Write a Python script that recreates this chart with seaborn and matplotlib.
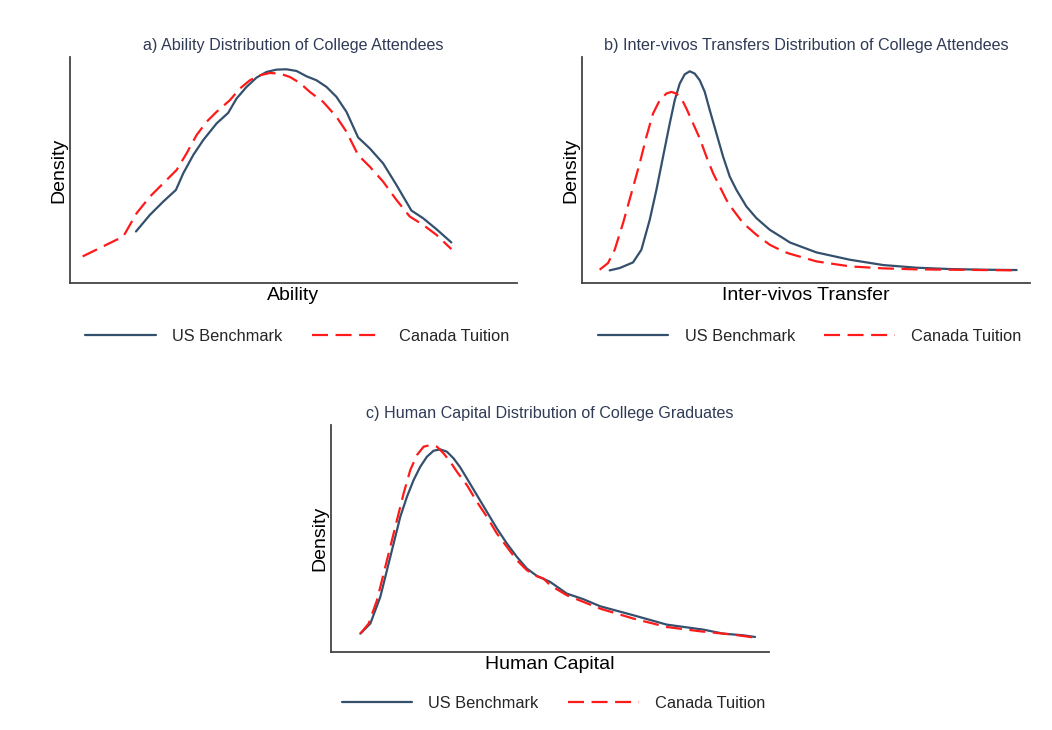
import numpy as np
import pandas as pd
import matplotlib
matplotlib.use("Agg")
import matplotlib.pyplot as plt
import seaborn as sns

# ---------------- data (arbitrary units) ----------------
series_names = ["US Benchmark", "Canada Tuition"]

# a) Ability
ab_us_x = [2.88, 3.30, 3.70, 4.08, 4.30, 4.60, 4.90, 5.30, 5.65, 5.90, 6.20, 6.50, 6.80, 7.10, 7.40,
           7.70, 8.00, 8.30, 8.60, 8.90, 9.20, 9.55, 9.90, 10.30, 10.70, 11.15, 11.50, 11.90, 12.35]
ab_us_y = [0.155, 0.205, 0.245, 0.280, 0.330, 0.385, 0.430, 0.480, 0.512, 0.555, 0.590, 0.618, 0.635,
           0.642, 0.643, 0.638, 0.622, 0.610, 0.590, 0.560, 0.515, 0.438, 0.405, 0.360, 0.295, 0.218,
           0.195, 0.162, 0.122]
ab_ca_x = [1.28, 2.50, 2.90, 3.30, 3.70, 4.10, 4.40, 4.70, 5.00, 5.30, 5.70, 6.00, 6.30, 6.60, 6.90,
           7.20, 7.50, 7.80, 8.10, 8.50, 8.90, 9.20, 9.55, 9.90, 10.30, 10.70, 11.10, 11.50, 11.90, 12.35]
ab_ca_y = [0.080, 0.140, 0.210, 0.260, 0.300, 0.340, 0.390, 0.445, 0.485, 0.515, 0.550, 0.585, 0.610,
           0.625, 0.632, 0.630, 0.620, 0.602, 0.575, 0.545, 0.500, 0.455, 0.385, 0.350, 0.305, 0.250,
           0.200, 0.175, 0.145, 0.102]

# b) Inter-vivos transfer
tr_us_x = [1.80, 2.10, 2.50, 2.75, 3.00, 3.20, 3.40, 3.60, 3.75, 3.90, 4.05, 4.20, 4.35, 4.50, 4.65,
           4.80, 5.00, 5.20, 5.40, 5.60, 5.90, 6.20, 6.60, 7.00, 7.20, 8.00, 9.00, 10.00, 11.00, 12.00,
           13.00, 14.00]
tr_us_y = [0.038, 0.045, 0.062, 0.100, 0.190, 0.280, 0.380, 0.480, 0.550, 0.600, 0.628, 0.637, 0.630,
           0.610, 0.575, 0.520, 0.450, 0.380, 0.320, 0.280, 0.230, 0.195, 0.160, 0.135, 0.122, 0.092,
           0.070, 0.054, 0.046, 0.042, 0.040, 0.039]
tr_ca_x = [1.50, 1.75, 1.95, 2.20, 2.45, 2.70, 2.90, 3.10, 3.30, 3.50, 3.65, 3.80, 3.95, 4.10, 4.30,
           4.50, 4.70, 4.90, 5.10, 5.30, 5.50, 5.80, 6.20, 6.60, 7.00, 7.20, 8.00, 9.00, 10.00, 11.00,
           12.00, 13.00, 14.00]
tr_ca_y = [0.040, 0.060, 0.100, 0.180, 0.270, 0.360, 0.440, 0.510, 0.550, 0.570, 0.575, 0.570, 0.555,
           0.525, 0.480, 0.435, 0.380, 0.330, 0.290, 0.250, 0.220, 0.180, 0.145, 0.115, 0.095, 0.088,
           0.065, 0.050, 0.044, 0.041, 0.040, 0.039, 0.038]

# c) Human capital
hc_us_x = [1.80, 2.10, 2.40, 2.60, 2.80, 3.00, 3.20, 3.40, 3.60, 3.80, 4.00, 4.20, 4.40, 4.60, 4.80,
           5.00, 5.30, 5.60, 5.90, 6.20, 6.50, 6.80, 7.10, 7.50, 8.00, 8.50, 9.00, 10.00, 11.00, 12.10,
           12.70, 13.30, 13.65]
hc_us_y = [0.055, 0.085, 0.165, 0.245, 0.325, 0.405, 0.465, 0.515, 0.555, 0.585, 0.603, 0.607, 0.600,
           0.580, 0.553, 0.520, 0.470, 0.420, 0.370, 0.325, 0.285, 0.250, 0.228, 0.210, 0.175, 0.158,
           0.137, 0.110, 0.082, 0.067, 0.055, 0.050, 0.045]
hc_ca_x = [1.80, 2.05, 2.30, 2.50, 2.70, 2.90, 3.10, 3.30, 3.50, 3.70, 3.90, 4.10, 4.30, 4.50, 4.70,
           5.00, 5.30, 5.60, 5.90, 6.20, 6.50, 6.80, 7.10, 7.30, 7.50, 8.00, 8.50, 9.00, 10.00, 11.00,
           12.00, 13.00, 13.65]
hc_ca_y = [0.055, 0.085, 0.155, 0.235, 0.315, 0.395, 0.475, 0.545, 0.590, 0.615, 0.620, 0.615, 0.595,
           0.570, 0.540, 0.500, 0.450, 0.405, 0.355, 0.315, 0.275, 0.245, 0.227, 0.220, 0.200, 0.170,
           0.150, 0.130, 0.100, 0.075, 0.062, 0.052, 0.043]

panels = [
    dict(title="a) Ability Distribution of College Attendees", xlabel="Ability",
         us=(ab_us_x, ab_us_y), ca=(ab_ca_x, ab_ca_y), xlim=(0.90, 14.32), ylim=(0, 0.68)),
    dict(title="b) Inter-vivos Transfers Distribution of College Attendees", xlabel="Inter-vivos Transfer",
         us=(tr_us_x, tr_us_y), ca=(tr_ca_x, tr_ca_y), xlim=(0.97, 14.40), ylim=(0, 0.68)),
    dict(title="c) Human Capital Distribution of College Graduates", xlabel="Human Capital",
         us=(hc_us_x, hc_us_y), ca=(hc_ca_x, hc_ca_y), xlim=(0.92, 14.07), ylim=(0, 0.68)),
]

# ---------------- styling ----------------
sns.set_theme(style="white")
plt.rcParams["font.family"] = ["Liberation Sans", "DejaVu Sans"]

blue = "#34506d"
red = "#ff1a1a"
title_color = "#2f3a55"

fig = plt.figure(figsize=(10.52, 7.30), dpi=100)
positions = [
    [70 / 1052, 1 - 283 / 730, 447 / 1052, 226 / 730],
    [582 / 1052, 1 - 283 / 730, 448 / 1052, 226 / 730],
    [331 / 1052, 1 - 652 / 730, 438 / 1052, 227 / 730],
]

for p, pos in zip(panels, positions):
    ax = fig.add_axes(pos)
    df = pd.concat([
        pd.DataFrame({"x": p["us"][0], "y": p["us"][1], "series": series_names[0]}),
        pd.DataFrame({"x": p["ca"][0], "y": p["ca"][1], "series": series_names[1]}),
    ], ignore_index=True)
    sns.lineplot(data=df, x="x", y="y", hue="series", style="series",
                 hue_order=series_names, style_order=series_names,
                 palette={series_names[0]: blue, series_names[1]: red},
                 dashes={series_names[0]: "", series_names[1]: (7.2, 3.4)},
                 sort=False, estimator=None, ax=ax, linewidth=1.6)
    for ln in ax.get_lines():
        ln.set_solid_joinstyle("round")
        ln.set_dash_joinstyle("round")
    ax.set_xlim(*p["xlim"])
    ax.set_ylim(*p["ylim"])
    ax.set_xticks([])
    ax.set_yticks([])
    ax.set_xlabel(p["xlabel"], fontsize=14, color="black", labelpad=3)
    ax.set_ylabel("Density", fontsize=14, color="black", labelpad=2)
    ax.set_title(p["title"], fontsize=11.6, color=title_color, pad=5)
    for side in ["top", "right"]:
        ax.spines[side].set_visible(False)
    for side in ["left", "bottom"]:
        ax.spines[side].set_color("#444444")
        ax.spines[side].set_linewidth(1.3)
    ybox = -0.235 if pos[1] > 0.5 else -0.225
    sns.move_legend(ax, "center", bbox_to_anchor=(0.508, ybox), ncol=2, frameon=False,
                    title=None, fontsize=11.8, handlelength=4.3, handletextpad=1.0,
                    columnspacing=1.8)
    leg = ax.get_legend()
    for h in leg.get_lines():
        h.set_linewidth(1.6)

fig.savefig("out.png", dpi=100, facecolor="white")
